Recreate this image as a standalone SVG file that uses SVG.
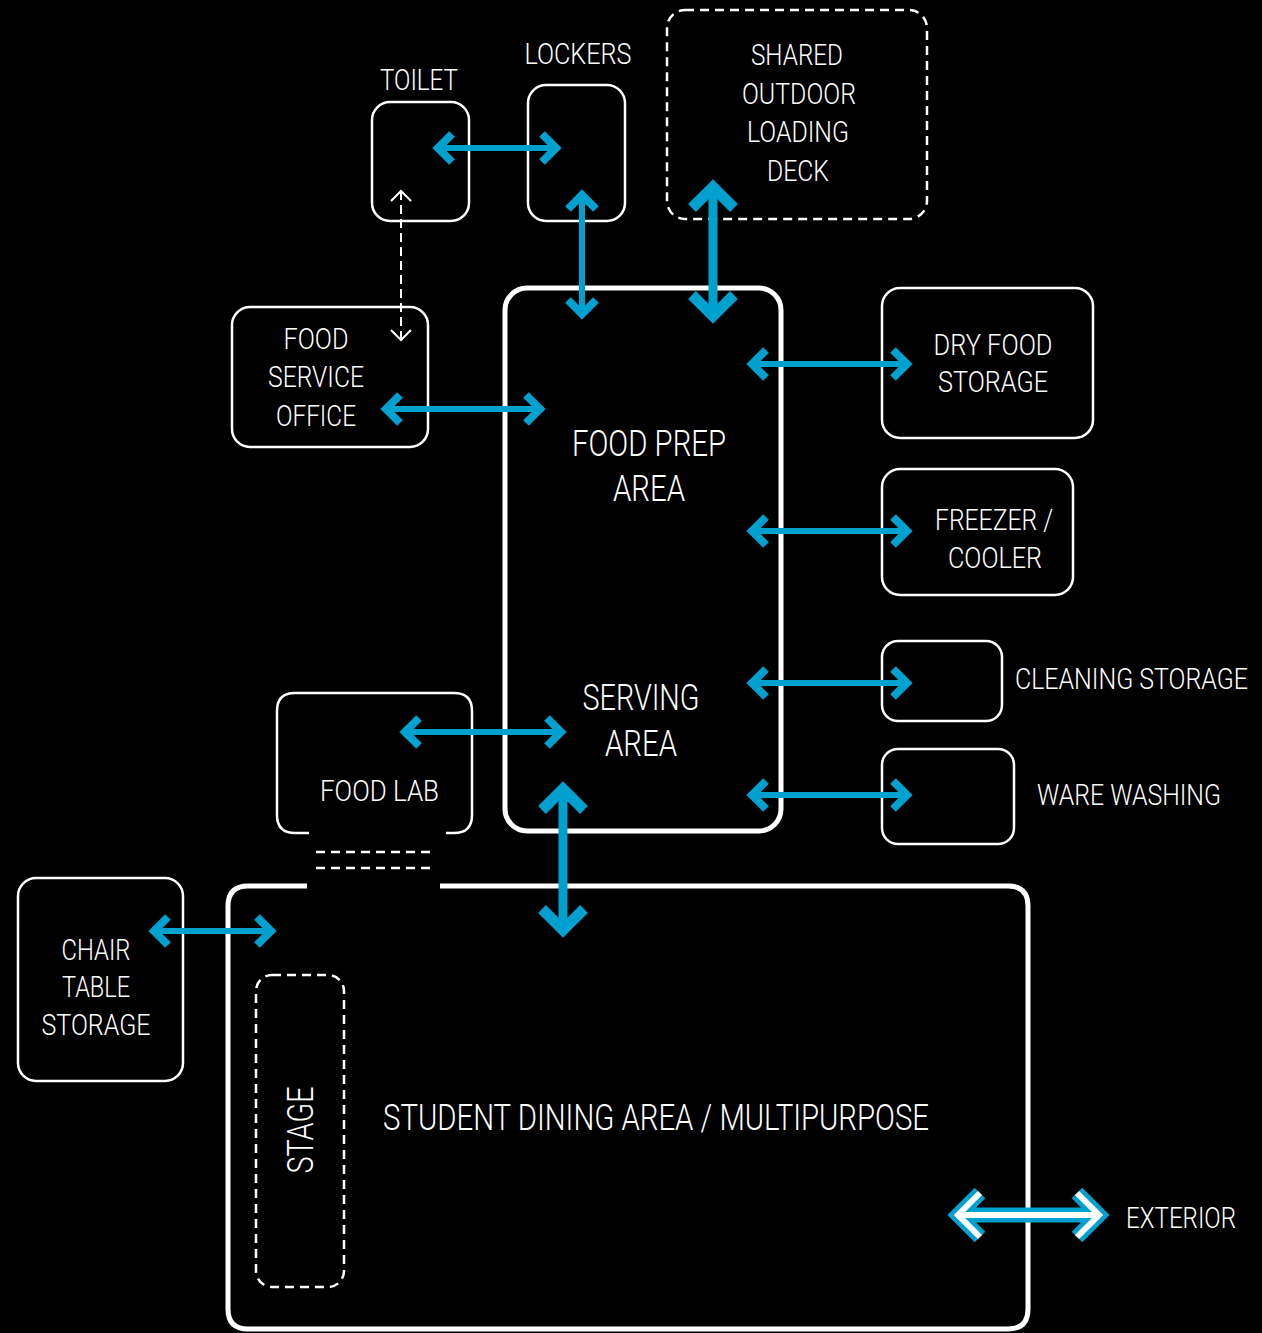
<svg xmlns="http://www.w3.org/2000/svg" width="1262" height="1333" viewBox="0 0 1262 1333">
  <style>
    .box { fill: none; stroke: #ffffff; stroke-width: 2.5; }
    .main { fill: none; stroke: #ffffff; stroke-width: 5; }
    .dash { fill: none; stroke: #ffffff; stroke-width: 2.5; stroke-dasharray: 9 6; }
    .lbl { fill: #ffffff; font-family: Roboto, "Liberation Sans", "DejaVu Sans", sans-serif; font-weight: 300; font-size: 30px; }
    .big { font-size: 36px; }
    .mid { text-anchor: middle; }
    .flow { fill: none; stroke: #00a1cf; stroke-width: 6; }
    .flowL { fill: none; stroke: #00a1cf; stroke-width: 9; }
    .link { fill: none; stroke: #ffffff; stroke-width: 2; stroke-dasharray: 9 5; }
  </style>
  <defs>
    <marker id="ah" markerUnits="userSpaceOnUse" markerWidth="40" markerHeight="40" viewBox="-20 -20 40 40" refX="0" refY="0" orient="auto-start-reverse" overflow="visible">
      <path d="M-14,-14 L0,0 L-14,14" fill="none" stroke="#00a1cf" stroke-width="8" stroke-linejoin="miter"/>
    </marker>
    <marker id="ahL" markerUnits="userSpaceOnUse" markerWidth="60" markerHeight="60" viewBox="-30 -30 60 60" refX="0" refY="0" orient="auto-start-reverse" overflow="visible">
      <path d="M-21,-21 L0,0 L-21,21" fill="none" stroke="#00a1cf" stroke-width="11" stroke-linejoin="miter"/>
    </marker>
    <marker id="ahD" markerUnits="userSpaceOnUse" markerWidth="30" markerHeight="30" viewBox="-15 -15 30 30" refX="0" refY="0" orient="auto-start-reverse" overflow="visible">
      <path d="M-10,-10 L0,0 L-10,10" fill="none" stroke="#ffffff" stroke-width="2" stroke-linejoin="miter"/>
    </marker>
  </defs>

  <rect width="1262" height="1333" fill="#000000"/>

  <g id="toilet">
    <rect class="box" x="372" y="102" width="97" height="119" rx="18"/>
    <text class="lbl mid" x="419" y="90" textLength="78" lengthAdjust="spacingAndGlyphs">TOILET</text>
  </g>

  <g id="lockers">
    <rect class="box" x="528" y="85" width="97" height="136" rx="18"/>
    <text class="lbl mid" x="578" y="64" textLength="107" lengthAdjust="spacingAndGlyphs">LOCKERS</text>
  </g>

  <g id="loading-deck">
    <rect class="dash" x="667" y="10" width="260" height="209" rx="18"/>
    <text class="lbl mid" x="797" y="65" textLength="92" lengthAdjust="spacingAndGlyphs">SHARED</text>
    <text class="lbl mid" x="799" y="104" textLength="114" lengthAdjust="spacingAndGlyphs">OUTDOOR</text>
    <text class="lbl mid" x="798" y="142" textLength="102" lengthAdjust="spacingAndGlyphs">LOADING</text>
    <text class="lbl mid" x="798" y="181" textLength="62" lengthAdjust="spacingAndGlyphs">DECK</text>
  </g>

  <g id="food-service-office">
    <rect class="box" x="232" y="307" width="196" height="140" rx="18"/>
    <text class="lbl mid" x="316" y="349" textLength="65" lengthAdjust="spacingAndGlyphs">FOOD</text>
    <text class="lbl mid" x="316" y="387" textLength="96" lengthAdjust="spacingAndGlyphs">SERVICE</text>
    <text class="lbl mid" x="316" y="426" textLength="80" lengthAdjust="spacingAndGlyphs">OFFICE</text>
  </g>

  <g id="food-prep">
    <rect class="main" x="505" y="288" width="276" height="543" rx="22"/>
    <text class="lbl big mid" x="649" y="456" textLength="154" lengthAdjust="spacingAndGlyphs">FOOD PREP</text>
    <text class="lbl big mid" x="649" y="501" textLength="72" lengthAdjust="spacingAndGlyphs">AREA</text>
    <text class="lbl big mid" x="641" y="710" textLength="117" lengthAdjust="spacingAndGlyphs">SERVING</text>
    <text class="lbl big mid" x="641" y="756" textLength="72" lengthAdjust="spacingAndGlyphs">AREA</text>
  </g>

  <g id="dry-food-storage">
    <rect class="box" x="882" y="288" width="211" height="150" rx="18"/>
    <text class="lbl mid" x="993" y="355" textLength="119" lengthAdjust="spacingAndGlyphs">DRY FOOD</text>
    <text class="lbl mid" x="993" y="392" textLength="110" lengthAdjust="spacingAndGlyphs">STORAGE</text>
  </g>

  <g id="freezer-cooler">
    <rect class="box" x="882" y="469" width="191" height="126" rx="18"/>
    <text class="lbl mid" x="994" y="530" textLength="118" lengthAdjust="spacingAndGlyphs">FREEZER /</text>
    <text class="lbl mid" x="995" y="568" textLength="94" lengthAdjust="spacingAndGlyphs">COOLER</text>
  </g>

  <g id="cleaning-storage">
    <rect class="box" x="882" y="641" width="120" height="80" rx="16"/>
    <text class="lbl" x="1015" y="689" font-size="28.5" textLength="233" lengthAdjust="spacingAndGlyphs">CLEANING STORAGE</text>
  </g>

  <g id="ware-washing">
    <rect class="box" x="882" y="749" width="132" height="95" rx="16"/>
    <text class="lbl" x="1037" y="805" textLength="184" lengthAdjust="spacingAndGlyphs">WARE WASHING</text>
  </g>

  <g id="food-lab">
    <path class="box" d="M309,833 L295,833 Q277,833 277,815 L277,711 Q277,693 295,693 L454,693 Q472,693 472,711 L472,815 Q472,833 454,833 L446,833"/>
    <line class="dash" x1="316" y1="852" x2="431" y2="852" stroke-dasharray="8 5"/>
    <line class="dash" x1="316" y1="868" x2="431" y2="868" stroke-dasharray="8 5"/>
    <text class="lbl" x="320" y="801" textLength="119" lengthAdjust="spacingAndGlyphs">FOOD LAB</text>
  </g>

  <g id="chair-table-storage">
    <rect class="box" x="18" y="878" width="165" height="203" rx="18"/>
    <text class="lbl mid" x="96" y="960" textLength="69" lengthAdjust="spacingAndGlyphs">CHAIR</text>
    <text class="lbl mid" x="96" y="997" textLength="68" lengthAdjust="spacingAndGlyphs">TABLE</text>
    <text class="lbl mid" x="96" y="1035" textLength="109" lengthAdjust="spacingAndGlyphs">STORAGE</text>
  </g>

  <g id="dining">
    <path class="main" d="M440,886 L1008,886 Q1028,886 1028,906 L1028,1309 Q1028,1329 1008,1329 L248,1329 Q228,1329 228,1309 L228,906 Q228,886 248,886 L307,886"/>
    <text class="lbl big" x="383" y="1130" textLength="546" lengthAdjust="spacingAndGlyphs">STUDENT DINING AREA / MULTIPURPOSE</text>
  </g>

  <g id="stage">
    <rect class="dash" x="256" y="975" width="88" height="312" rx="16"/>
    <text class="lbl big mid" transform="translate(313,1130) rotate(-90)" x="0" y="0" textLength="87" lengthAdjust="spacingAndGlyphs">STAGE</text>
  </g>

  <g id="exterior">
    <text class="lbl" x="1126" y="1228" textLength="110" lengthAdjust="spacingAndGlyphs">EXTERIOR</text>
  </g>

  <g id="connectors">
    <line class="link" x1="401" y1="191" x2="401" y2="340" marker-start="url(#ahD)" marker-end="url(#ahD)"/>
    <line class="flow" x1="438" y1="148" x2="556" y2="148" marker-start="url(#ah)" marker-end="url(#ah)"/>
    <line class="flow" x1="582" y1="195" x2="582" y2="314" marker-start="url(#ah)" marker-end="url(#ah)"/>
    <line class="flowL" x1="713" y1="187" x2="713" y2="316" marker-start="url(#ahL)" marker-end="url(#ahL)"/>
    <line class="flow" x1="386" y1="409" x2="540" y2="409" marker-start="url(#ah)" marker-end="url(#ah)"/>
    <line class="flow" x1="752" y1="364" x2="907" y2="364" marker-start="url(#ah)" marker-end="url(#ah)"/>
    <line class="flow" x1="752" y1="531" x2="907" y2="531" marker-start="url(#ah)" marker-end="url(#ah)"/>
    <line class="flow" x1="752" y1="683" x2="907" y2="683" marker-start="url(#ah)" marker-end="url(#ah)"/>
    <line class="flow" x1="752" y1="795" x2="907" y2="795" marker-start="url(#ah)" marker-end="url(#ah)"/>
    <line class="flow" x1="405" y1="732" x2="561" y2="732" marker-start="url(#ah)" marker-end="url(#ah)"/>
    <line class="flowL" x1="563" y1="789" x2="563" y2="930" marker-start="url(#ahL)" marker-end="url(#ahL)"/>
    <line class="flow" x1="154" y1="931" x2="271" y2="931" marker-start="url(#ah)" marker-end="url(#ah)"/>
    <!-- outlined exterior arrow: blue casing under a white core -->
    <path d="M980,1193 L958,1215 L980,1237 M958,1215 L1099,1215 M1077,1193 L1099,1215 L1077,1237" fill="none" stroke="#00a1cf" stroke-width="15" stroke-linejoin="miter"/>
    <path d="M980,1193 L958,1215 L980,1237 M958,1215 L1099,1215 M1077,1193 L1099,1215 L1077,1237" fill="none" stroke="#ffffff" stroke-width="6" stroke-linejoin="miter"/>
  </g>
</svg>
